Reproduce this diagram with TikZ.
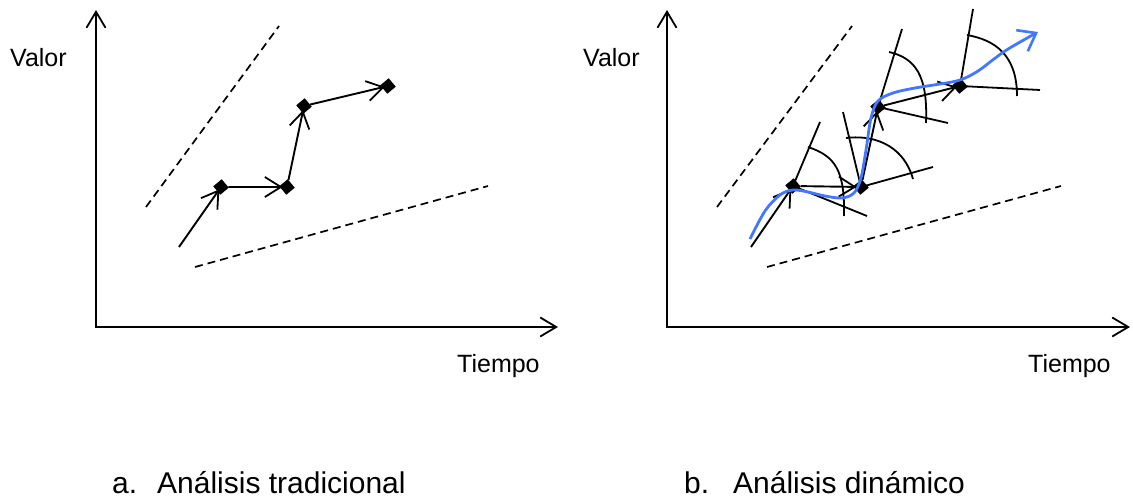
\documentclass[tikz,border=0pt]{standalone}
\usepackage{fontspec}
\setmainfont{Liberation Sans}
\usetikzlibrary{arrows.meta}
\definecolor{curveblue}{RGB}{66,119,255}
\tikzset{
  axisline/.style={line width=2pt, {Straight Barb[length=16pt,width=19pt,line width=1.8pt]}-{Straight Barb[length=16pt,width=19pt,line width=1.8pt]}},
  dataarrow/.style={line width=1.9pt, -{Straight Barb[length=16pt,width=20pt,line width=1.8pt]}, shorten >=-3pt},
  guide/.style={line width=1.7pt, dash pattern=on 8pt off 5pt},
  ptmark/.style={fill=black, minimum size=11pt, inner sep=0pt, rotate=40, draw=none},
  ray/.style={line width=1.8pt},
  evo/.style={line width=2.8pt, curveblue, -{Straight Barb[length=16pt,width=24pt,line width=2.6pt]}},
  lbl/.style={anchor=base west, inner sep=0pt, font=\fontsize{25}{30}\selectfont},
  captxt/.style={anchor=base west, inner sep=0pt, font=\fontsize{30}{36}\selectfont}
}
\begin{document}
\begin{tikzpicture}[x=1pt,y=-1pt]
\useasboundingbox (0,0) rectangle (1133,500);
% ---------- panel a ----------
\coordinate (ay) at (96,10);
\coordinate (ao) at (96,327);
\coordinate (ax) at (558,327);
\draw[axisline] (ay) -- (ao) -- (ax);
\node[lbl] (avalor) at (10,67) {Valor};
\node[lbl] (atiempo) at (457,372) {Tiempo};
\coordinate (ad1s) at (146,207); \coordinate (ad1e) at (279,26);
\coordinate (ad2s) at (195,267); \coordinate (ad2e) at (488,186);
\draw[guide] (ad1s) -- (ad1e);
\draw[guide] (ad2s) -- (ad2e);
\coordinate (a0) at (179,247);
\node[ptmark] (a1) at (221,187) {};
\node[ptmark] (a2) at (287,187) {};
\node[ptmark] (a3) at (304,106) {};
\node[ptmark] (a4) at (388,86) {};
\draw[dataarrow] (a0) -- (a1);
\draw[dataarrow] (a1) -- (a2);
\draw[dataarrow] (a2) -- (a3);
\draw[dataarrow] (a3) -- (a4);
\node[captxt] (ala) at (112,493) {a.};
\node[captxt] (alt) at (157,493) {Análisis tradicional};
% ---------- panel b ----------
\coordinate (by) at (667,10);
\coordinate (bo) at (667,327);
\coordinate (bx) at (1130,327);
\draw[axisline] (by) -- (bo) -- (bx);
\node[lbl] (bvalor) at (583,67) {Valor};
\node[lbl] (btiempo) at (1028,372) {Tiempo};
\coordinate (bd1s) at (717,207); \coordinate (bd1e) at (852,26);
\coordinate (bd2s) at (767,267); \coordinate (bd2e) at (1061,186);
\draw[guide] (bd1s) -- (bd1e);
\draw[guide] (bd2s) -- (bd2e);
\coordinate (b0) at (751,247);
\coordinate (b1) at (793,186);
\coordinate (b2) at (861,187);
\coordinate (b3) at (878,107);
\coordinate (b4) at (960,86);
% fans
\draw[ray] (b1) -- (820,122);
\draw[ray] (b1) -- (867,216);
\draw[ray] (808,147) .. controls (835,156) and (845,170) .. (844,216);
\draw[ray] (b2) -- (843,112);
\draw[ray] (b2) -- (933,167);
\draw[ray] (846,138) .. controls (880,134) and (905,150) .. (913,179);
\draw[ray] (b3) -- (902,29);
\draw[ray] (b3) -- (948,123);
\draw[ray] (889,52) .. controls (915,58) and (928,75) .. (926,123);
\draw[ray] (b4) -- (973,9);
\draw[ray] (b4) -- (1040,90);
\draw[ray] (967,35) .. controls (995,40) and (1017,55) .. (1017,96);
\node[ptmark] (m1) at (b1) {};
\node[ptmark] (m2) at (b2) {};
\node[ptmark] (m3) at (b3) {};
\node[ptmark] (m4) at (b4) {};
\draw[dataarrow] (b0) -- (m1);
\draw[dataarrow] (m1) -- (m2);
\draw[dataarrow] (m2) -- (m3);
\draw[dataarrow] (m3) -- (m4);
\draw[evo] plot[smooth, tension=0.55] coordinates {(750,239) (765,211) (780,195) (793,190) (808,192) (825,196) (842,198) (854,193) (861,178) (866,150) (871,118) (878,101) (893,93) (915,88) (940,84) (960,80) (978,71) (1005,51) (1038,32)};
\node[captxt] (blb) at (684,493) {b.};
\node[captxt] (blt) at (733,493) {Análisis dinámico};
\end{tikzpicture}
\end{document}
